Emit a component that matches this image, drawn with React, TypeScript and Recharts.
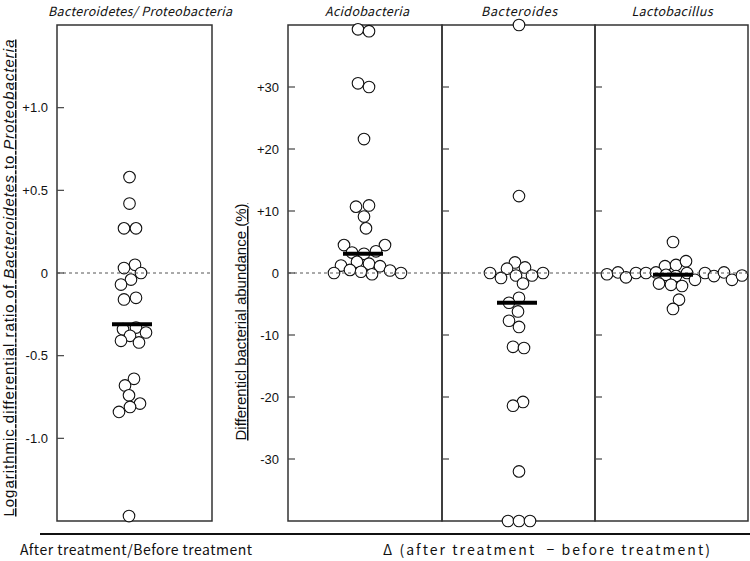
import { ScatterChart, Scatter, XAxis, YAxis, ReferenceLine, ReferenceArea } from 'recharts';

// log ratio panel (after / before), offsets are horizontal swarm positions
const ratioValues = [0.58, 0.42, 0.27, 0.27, 0.05, 0.03, 0.0, -0.04, -0.07, -0.16, -0.15, -0.34, -0.33, -0.36, -0.38, -0.41, -0.42, -0.64, -0.68, -0.74, -0.79, -0.81, -0.84, -1.47];
const ratioOffsets = [-5, -5, -10.5, 1.5, 0.5, -10.5, 6.5, -3.5, -13.5, -10.5, 1.5, -11.5, 1.5, 11.5, -4.5, -13.5, 4.5, -0.5, -9.5, -5.5, 5.5, -4.5, -15.5, -5.5];

const acidoValues = [39.3, 39.0, 30.6, 30.0, 21.6, 10.7, 10.9, 9.1, 7.2, 4.5, 4.5, 3.3, 3.1, 3.5, 1.2, 1.8, 1.5, 1.1, 0.0, 0.5, 0.2, -0.2, 0.4, 0.0];
const acidoOffsets = [-7, 4, -7, 4, -1, -9, 4, -1, 1, -21, 20, -13, -1, 11, -24, -8, 4, 15, -31, -15, -4, 7, 25, 36];

const bacteroidesValues = [40, 12.4, 1.7, 0.7, 0.9, 0.0, 0.0, -0.8, -0.4, -0.4, -1.7, -4.0, -4.8, -6.2, -7.7, -8.7, -11.9, -12.1, -20.8, -21.4, -32.0, -40, -40, -40];
const bacteroidesOffsets = [0.5, 0.5, -3.5, -11.5, 6.5, -28.5, 24.5, -17.5, -2.5, 13.5, 4.5, 0.5, -9.5, -0.5, -9.5, 0.5, -5.5, 5.5, 4.5, -5.5, 0.5, -10.5, 0.5, 11.5];

const lactoValues = [5.0, 1.1, 1.3, 1.9, -0.2, 0.1, -0.7, 0.0, 0.0, 0.1, -0.3, -0.5, 0.0, -1.1, 0.0, -0.5, 0.1, -1.1, -0.4, -1.7, -1.9, -2.1, -4.3, -5.8];
const lactoOffsets = [1.5, -6.5, 4.5, 14.5, -64.5, -53.5, -45.5, -35.5, -25.5, -15.5, -5.5, 4.5, 15.5, 23.5, 33.5, 42.5, 52.5, 60.5, 70.5, -12.5, -0.5, 10.5, 7.5, 1.5];

const groupTitles = ['Bacteroidetes/ Proteobacteria', 'Acidobacteria', 'Bacteroides', 'Lactobacillus'];
const groupMedians = [-0.31, 3.1, -4.8, -0.3];
const medianStarts = [-22.5, -22, -21.5, -18.5];
const medianEnds = [17.5, 18, 18.5, 21.5];

const ratioTicks = [1, 0.5, 0, -0.5, -1];
const ratioTickLabels = ['+1.0', '+0.5', '0', '-0.5', '-1.0'];
const diffTicks = [30, 20, 10, 0, -10, -20, -30];
const diffTickLabels = ['+30', '+20', '+10', '0', '-10', '-20', '-30'];

const TICK_FONT = '"Liberation Sans", Arial, sans-serif';
const JP_FONT = '"Noto Sans CJK JP", "Noto Sans", sans-serif';

const PLOT_TOP = 25;
const PLOT_BOTTOM = 521;
const CHART_H = 561;

const Dot = (props: any) => (
  <circle cx={props.cx} cy={props.cy} r={5.8} fill="#fff" stroke="#111" strokeWidth={1.1} />
);

const makeTick = (ticks: number[], labels: string[], showLabel: boolean) => (props: any) => {
  const { x, y, payload } = props;
  const i = ticks.indexOf(payload.value);
  return (
    <g>
      <line x1={x + 9} x2={x + 16} y1={y} y2={y} stroke="#444" strokeWidth={1.2} />
      {showLabel && (
        <text x={x} y={y} textAnchor="end" dominantBaseline="central" fontSize={13} fontFamily={TICK_FONT} fill="#111">
          {labels[i]}
        </text>
      )}
    </g>
  );
};

interface PanelProps {
  plotLeft: number;
  plotWidth: number;
  values: number[];
  offsets: number[];
  median: number;
  medianStart: number;
  medianEnd: number;
  domain: [number, number];
  ticks: number[];
  labels: string[];
  showLabels: boolean;
}

const Panel = ({ plotLeft, plotWidth, values, offsets, median, medianStart, medianEnd, domain, ticks, labels, showLabels }: PanelProps) => {
  const half = plotWidth / 2;
  const data = values.map((v, i) => ({ x: offsets[i], y: v }));
  return (
    <div style={{ position: 'absolute', left: plotLeft - 55, top: 0 }}>
      <ScatterChart
        width={plotWidth + 60}
        height={CHART_H}
        margin={{ top: PLOT_TOP, right: 5, bottom: CHART_H - PLOT_BOTTOM, left: 15 }}
      >
        <XAxis type="number" dataKey="x" domain={[-half, half]} hide />
        <YAxis
          type="number"
          dataKey="y"
          domain={domain}
          ticks={ticks}
          interval={0}
          width={40}
          axisLine={false}
          tickLine={false}
          tickSize={0}
          tickMargin={9}
          tick={makeTick(ticks, labels, showLabels)}
        />
        <ReferenceArea x1={-half} x2={half} y1={domain[0]} y2={domain[1]} fill="#fff" fillOpacity={0} stroke="#333" strokeWidth={1.5} ifOverflow="visible" />
        <Scatter data={data} shape={Dot} isAnimationActive={false} />
        <ReferenceLine y={0} stroke="#555" strokeDasharray="3 3" strokeWidth={1} zIndex={700} />
        <ReferenceLine
          segment={[{ x: medianStart, y: median }, { x: medianEnd, y: median }]}
          stroke="#000"
          strokeWidth={4}
          zIndex={800}
        />
      </ScatterChart>
    </div>
  );
};

export default function App() {
  return (
    <div style={{ position: 'absolute', left: 0, top: 0, width: 750, height: 561, background: '#fff', overflow: 'hidden' }}>
      <Panel plotLeft={57} plotWidth={155} values={ratioValues} offsets={ratioOffsets} median={groupMedians[0]} medianStart={medianStarts[0]} medianEnd={medianEnds[0]} domain={[-1.5, 1.5]} ticks={ratioTicks} labels={ratioTickLabels} showLabels />
      <Panel plotLeft={288} plotWidth={154} values={acidoValues} offsets={acidoOffsets} median={groupMedians[1]} medianStart={medianStarts[1]} medianEnd={medianEnds[1]} domain={[-40, 40]} ticks={diffTicks} labels={diffTickLabels} showLabels />
      <Panel plotLeft={442} plotWidth={153} values={bacteroidesValues} offsets={bacteroidesOffsets} median={groupMedians[2]} medianStart={medianStarts[2]} medianEnd={medianEnds[2]} domain={[-40, 40]} ticks={diffTicks} labels={diffTickLabels} showLabels={false} />
      <Panel plotLeft={595} plotWidth={153} values={lactoValues} offsets={lactoOffsets} median={groupMedians[3]} medianStart={medianStarts[3]} medianEnd={medianEnds[3]} domain={[-40, 40]} ticks={diffTicks} labels={diffTickLabels} showLabels={false} />

      <svg width={750} height={561} style={{ position: 'absolute', left: 0, top: 0, pointerEvents: 'none' }}>
        <g fontFamily={JP_FONT} fontStyle="italic" fontSize={12.5} fill="#111" textAnchor="middle">
          <text x={140} y={16} textLength={184} lengthAdjust="spacing">{groupTitles[0]}</text>
          <text x={367} y={16} textLength={84} lengthAdjust="spacing">{groupTitles[1]}</text>
          <text x={519} y={16} textLength={76} lengthAdjust="spacing">{groupTitles[2]}</text>
          <text x={672} y={16} textLength={81} lengthAdjust="spacing">{groupTitles[3]}</text>
        </g>
        <text transform="translate(14,278) rotate(-90)" textAnchor="middle" fontSize={15} fontFamily={TICK_FONT} fill="#111" textDecoration="underline" textLength={477} lengthAdjust="spacing">
          Logarithmic differential ratio of <tspan fontStyle="italic">Bacteroidetes</tspan> to <tspan fontStyle="italic">Proteobacteria</tspan>
        </text>
        <text transform="translate(246,322) rotate(-90)" textAnchor="middle" fontSize={15} fontFamily={TICK_FONT} fill="#111" textDecoration="underline" textLength={237} lengthAdjust="spacing">
          Differenticl bacterial abundance (%)
        </text>
        <line x1={40} x2={750} y1={534} y2={534} stroke="#111" strokeWidth={2} />
        <text x={20} y={555} fontSize={14} fontFamily={JP_FONT} fill="#111" textLength={232} lengthAdjust="spacing">After treatment/Before treatment</text>
        <text x={383} y={555} fontSize={14} fontFamily={JP_FONT} fill="#111" style={{ whiteSpace: 'pre' }} textLength={327} lengthAdjust="spacing">Δ (after treatment  − before treatment)</text>
      </svg>
    </div>
  );
}
